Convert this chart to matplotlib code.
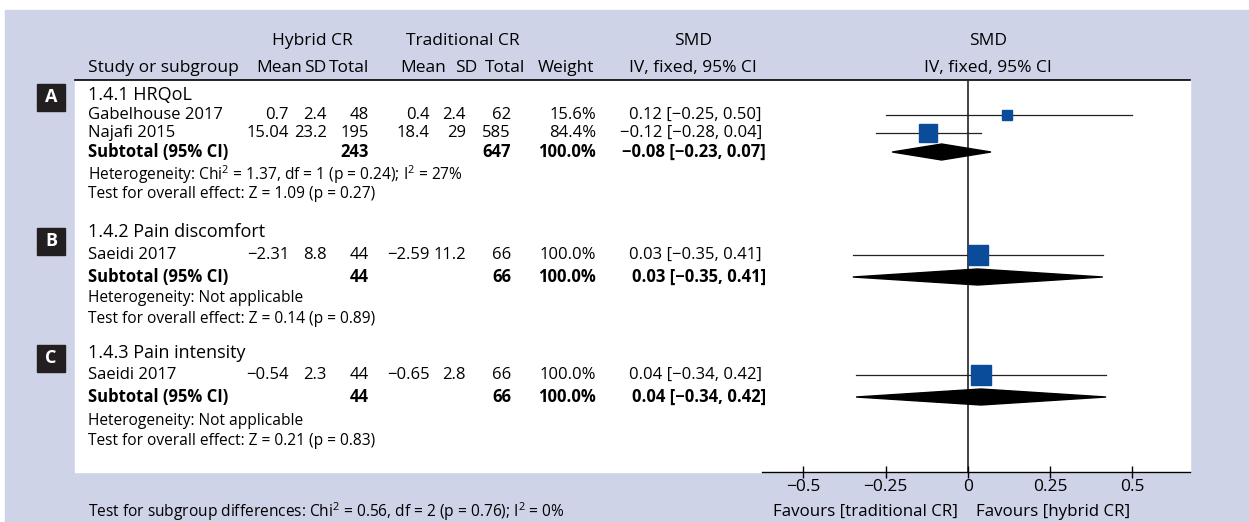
import matplotlib
matplotlib.use("Agg")
import matplotlib.pyplot as plt
from matplotlib.patches import Rectangle, Polygon

W, H = 1249, 522
# ---- data ----
groups = ["1.4.1 HRQoL", "1.4.2 Pain discomfort", "1.4.3 Pain intensity"]
group_letters = ["A", "B", "C"]
studies = [
    [("Gabelhouse 2017", "0.7", "2.4", "48", "0.4", "2.4", "62", "15.6%", "0.12 [\u22120.25, 0.50]"),
     ("Najafi 2015", "15.04", "23.2", "195", "18.4", "29", "585", "84.4%", "\u22120.12 [\u22120.28, 0.04]")],
    [("Saeidi 2017", "\u22122.31", "8.8", "44", "\u22122.59", "11.2", "66", "100.0%", "0.03 [\u22120.35, 0.41]")],
    [("Saeidi 2017", "\u22120.54", "2.3", "44", "\u22120.65", "2.8", "66", "100.0%", "0.04 [\u22120.34, 0.42]")],
]
study_smd = [[0.12, -0.12], [0.03], [0.04]]
study_lo = [[-0.25, -0.28], [-0.35], [-0.34]]
study_hi = [[0.50, 0.04], [0.41], [0.42]]
study_weight = [[15.6, 84.4], [100.0], [100.0]]
subtotal_n = [("243", "647"), ("44", "66"), ("44", "66")]
subtotal_ci = ["\u22120.08 [\u22120.23, 0.07]", "0.03 [\u22120.35, 0.41]", "0.04 [\u22120.34, 0.42]"]
sub_smd = [-0.08, 0.03, 0.04]
sub_lo = [-0.23, -0.35, -0.34]
sub_hi = [0.07, 0.41, 0.42]
heterogeneity = ["Heterogeneity: Chi$^{\\mathregular{2}}$ = 1.37, df = 1 (p = 0.24); I$^{\\mathregular{2}}$ = 27%",
                 "Heterogeneity: Not applicable", "Heterogeneity: Not applicable"]
overall = ["Test for overall effect: Z = 1.09 (p = 0.27)",
           "Test for overall effect: Z = 0.14 (p = 0.89)",
           "Test for overall effect: Z = 0.21 (p = 0.83)"]
footer = "Test for subgroup differences: Chi$^{\\mathregular{2}}$ = 0.56, df = 2 (p = 0.76); I$^{\\mathregular{2}}$ = 0%"
xticks = [-0.5, -0.25, 0, 0.25, 0.5]
xticklabels = ["\u22120.5", "\u22120.25", "0", "0.25", "0.5"]

# ---- layout (pixel coords) ----
plt.rcParams['font.family'] = ['Open Sans', 'DejaVu Sans']
plt.rcParams['mathtext.fontset'] = 'custom'
plt.rcParams['mathtext.rm'] = 'Open Sans'
plt.rcParams['mathtext.it'] = 'Open Sans'
fig = plt.figure(figsize=(W/100, H/100), dpi=100)
bg = fig.add_axes([0, 0, 1, 1]); bg.set_xlim(0, W); bg.set_ylim(H, 0); bg.axis('off')
bg.add_patch(Rectangle((5, 10), W-5, H-10, color='#cfd3e8', zorder=0))
bg.add_patch(Rectangle((75, 80), 1115, 392, color='white', zorder=1))
bg.plot([75, 1190], [80, 80], color='black', lw=1.2, zorder=2)

FS = 12
FS2 = 11.2
def t(x, y, s, ha='left', bold=False, fs=FS, **kw):
    bg.text(x, y, s, ha=ha, va='center', fontsize=fs, fontweight='bold' if bold else 'normal', zorder=5, **kw)

t(312, 41, "Hybrid CR", ha='center', fs=12.5); t(463, 41, "Traditional CR", ha='center', fs=12.5)
t(693, 41, "SMD", ha='center', fs=12.5); t(988, 41, "SMD", ha='center', fs=12.5)
t(88, 68, "Study or subgroup", fs=12.5); t(279, 68, "Mean", ha='center', fs=12.5); t(315, 68, "SD", ha='center', fs=12.5)
t(349, 68, "Total", ha='center', fs=12.5); t(423, 68, "Mean", ha='center', fs=12.5); t(466, 68, "SD", ha='center', fs=12.5)
t(505, 68, "Total", ha='center', fs=12.5); t(566, 68, "Weight", ha='center', fs=12.5)
t(693, 68, "IV, fixed, 95% CI", ha='center', fs=12.5); t(988, 68, "IV, fixed, 95% CI", ha='center', fs=12.5)

col_right = [289, 327, 369, 430, 466, 511, 596, 762]
group_y = [95, 232, 353]
study_rows = [[115, 133], [255], [375]]
sub_y = [152, 277, 397]
het_y = [175, 298, 421]
ov_y = [194, 319, 441]
letter_y = [97, 241, 358]

for g in range(3):
    bg.add_patch(Rectangle((37, letter_y[g]-13), 28, 27, color='#231f20', zorder=4))
    t(51, letter_y[g], group_letters[g], ha='center', bold=True, color='white', fs=13)
    t(88, group_y[g], groups[g], fs=13)
    for row, y in zip(studies[g], study_rows[g]):
        t(88, y, row[0])
        for xr, s in zip(col_right, row[1:]):
            t(xr, y, s, ha='right')
    t(88, sub_y[g], "Subtotal (95% CI)", bold=True)
    t(369, sub_y[g], subtotal_n[g][0], ha='right', bold=True)
    t(511, sub_y[g], subtotal_n[g][1], ha='right', bold=True)
    t(596, sub_y[g], "100.0%", ha='right', bold=True)
    t(766, sub_y[g], subtotal_ci[g], ha='right', bold=True)
    t(88, het_y[g], heterogeneity[g], fs=FS2)
    t(88, ov_y[g], overall[g], fs=FS2)
t(88, 512, footer, fs=FS2)

# ---- forest axes ----
x0, x1 = 762, 1190
y0, y1 = 80, 472
ax = fig.add_axes([x0/W, 1-y1/H, (x1-x0)/W, (y1-y0)/H])
ax.set_xlim(-0.626, 0.675); ax.set_ylim(y1, y0)
ax.patch.set_alpha(0)
for s in ['top', 'right', 'left']:
    ax.spines[s].set_visible(False)
ax.spines['bottom'].set_linewidth(1.0)
ax.set_yticks([])
ax.set_xticks(xticks); ax.set_xticklabels(xticklabels, fontsize=12.5)
ax.tick_params(axis='x', direction='inout', length=8, width=1, pad=1)
ax.axvline(0, color='#222222', lw=1.2, zorder=1)
blue = '#0a4c99'
for g in range(3):
    for y, m, lo, hi, w in zip(study_rows[g], study_smd[g], study_lo[g], study_hi[g], study_weight[g]):
        ax.plot([lo, hi], [y, y], color='#222222', lw=0.9, zorder=2)
        ms = 4 + 16 * (w / 100) ** 0.5
        ax.plot([m], [y], marker='s', ms=ms * 0.72, color=blue, mec=blue, zorder=3, linestyle='none')
    yc = sub_y[g]
    ax.add_patch(Polygon([[sub_lo[g], yc], [sub_smd[g], yc-8], [sub_hi[g], yc], [sub_smd[g], yc+8]],
                         closed=True, color='black', zorder=3))
fig.text(958/W, 1-512/H, "Favours [traditional CR]", ha='right', va='center', fontsize=12.2)
fig.text(976/W, 1-512/H, "Favours [hybrid CR]", ha='left', va='center', fontsize=12.2)
fig.savefig("out.png", dpi=100)
